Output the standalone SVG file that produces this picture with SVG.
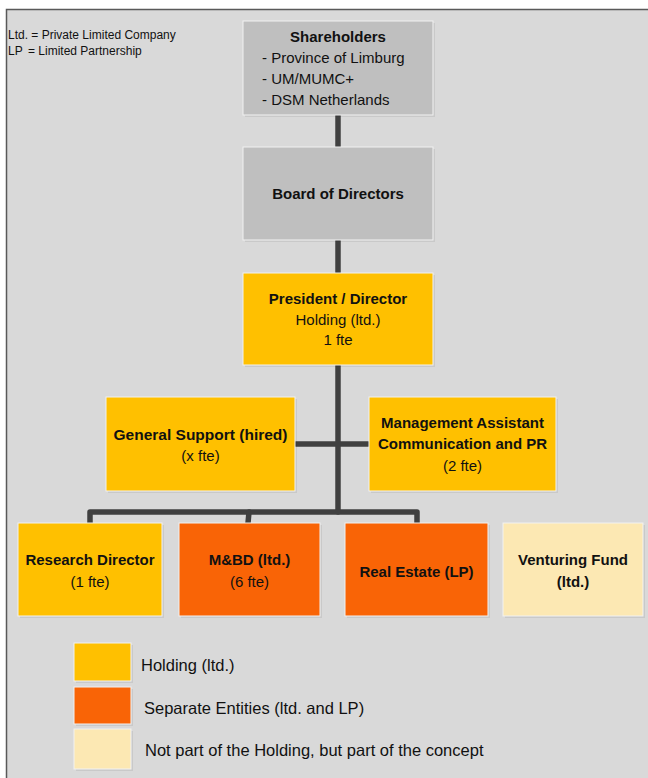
<svg xmlns="http://www.w3.org/2000/svg" width="648" height="778" viewBox="0 0 648 778">
<style>
text{font-family:"Liberation Sans",Arial,sans-serif;fill:#111;}
.b{font-weight:bold;font-size:15px;}
.n{font-size:15px;}
.c{text-anchor:middle;}
.box{stroke:#f2f2f2;stroke-width:1;}
.sh{fill:#000;opacity:0.07;}
.gray{fill:#bfbfbf;}
.yel{fill:#ffc000;}
.org{fill:#f96406;}
.pale{fill:#fce8b3;}
.con{stroke:#404040;stroke-width:5.5;fill:none;stroke-linecap:round;stroke-linejoin:round;}
.leg{font-size:16.5px;}
.note{font-size:12px;}
</style>
<rect x="0" y="0" width="648" height="778" fill="#ffffff"/>
<rect x="6" y="9" width="642" height="769" fill="#d9d9d9"/>
<path d="M6.5 778 V9.5 H648" fill="none" stroke="#595959" stroke-width="1.5"/>
<g id="note">
<text class="note" x="8" y="39">Ltd. = Private Limited Company</text>
<text class="note" x="8" y="55">LP</text>
<text class="note" x="28" y="55">= Limited Partnership</text>
</g>
<g id="connectors">
<line class="con" x1="338" y1="116" x2="338" y2="146"/>
<line class="con" x1="338" y1="241" x2="338" y2="272"/>
<line class="con" x1="338" y1="366" x2="338" y2="512"/>
<line class="con" x1="296" y1="444" x2="368" y2="444"/>
<path class="con" d="M90 523 V512 H417 V523"/>
<path class="con" d="M248 523 L249 512"/>
</g>
<g id="shareholders">
<rect class="sh" x="245" y="23" width="190" height="94"/>
<rect class="box gray" x="243" y="21" width="190" height="94"/>
<text class="b c" x="338" y="42">Shareholders</text>
<text class="n" x="262" y="63">- Province of Limburg</text>
<text class="n" x="262" y="84">- UM/MUMC+</text>
<text class="n" x="262" y="105">- DSM Netherlands</text>
</g>
<g id="board">
<rect class="sh" x="245" y="149" width="190" height="93"/>
<rect class="box gray" x="243" y="147" width="190" height="93"/>
<text class="b c" x="338" y="199">Board of Directors</text>
</g>
<g id="president">
<rect class="sh" x="245" y="275" width="190" height="92"/>
<rect class="box yel" x="243" y="273" width="190" height="92"/>
<text class="b c" x="338" y="304">President / Director</text>
<text class="n c" x="338" y="325">Holding (ltd.)</text>
<text class="n c" x="338" y="345">1 fte</text>
</g>
<g id="general-support">
<rect class="sh" x="108" y="399" width="189" height="94"/>
<rect class="box yel" x="106" y="397" width="189" height="94"/>
<text class="b c" x="200.5" y="440" style="font-size:15.5px">General Support (hired)</text>
<text class="n c" x="200.5" y="461">(x fte)</text>
</g>
<g id="management-assistant">
<rect class="sh" x="371" y="399" width="187" height="94"/>
<rect class="box yel" x="369" y="397" width="187" height="94"/>
<text class="b c" x="462.5" y="428">Management Assistant</text>
<text class="b c" x="462.5" y="449">Communication and PR</text>
<text class="n c" x="462.5" y="471">(2 fte)</text>
</g>
<g id="research-director">
<rect class="sh" x="20" y="525" width="144" height="93"/>
<rect class="box yel" x="18" y="523" width="144" height="93"/>
<text class="b c" x="90" y="565">Research Director</text>
<text class="n c" x="90" y="587">(1 fte)</text>
</g>
<g id="mbd">
<rect class="sh" x="181" y="525" width="141" height="93"/>
<rect class="box org" x="179" y="523" width="141" height="93"/>
<text class="b c" x="249.5" y="565">M&amp;BD (ltd.)</text>
<text class="n c" x="249.5" y="587">(6 fte)</text>
</g>
<g id="real-estate">
<rect class="sh" x="347" y="525" width="143" height="93"/>
<rect class="box org" x="345" y="523" width="143" height="93"/>
<text class="b c" x="416.5" y="577">Real Estate (LP)</text>
</g>
<g id="venturing-fund">
<rect class="sh" x="505" y="525" width="140" height="93"/>
<rect class="box pale" x="503" y="523" width="140" height="93"/>
<text class="b c" x="573" y="565">Venturing Fund</text>
<text class="b c" x="573" y="587">(ltd.)</text>
</g>
<g id="legend">
<rect class="sh" x="76" y="645" width="57" height="38"/>
<rect class="box yel" x="74" y="643" width="57" height="38"/>
<text class="leg" x="141" y="671">Holding (ltd.)</text>
<rect class="sh" x="76" y="689" width="57" height="37"/>
<rect class="box org" x="74" y="687" width="57" height="37"/>
<text class="leg" x="144" y="714">Separate Entities (ltd. and LP)</text>
<rect class="sh" x="76" y="731" width="57" height="40"/>
<rect class="box pale" x="74" y="729" width="57" height="40"/>
<text class="leg" x="145" y="756">Not part of the Holding, but part of the concept</text>
</g>
</svg>
